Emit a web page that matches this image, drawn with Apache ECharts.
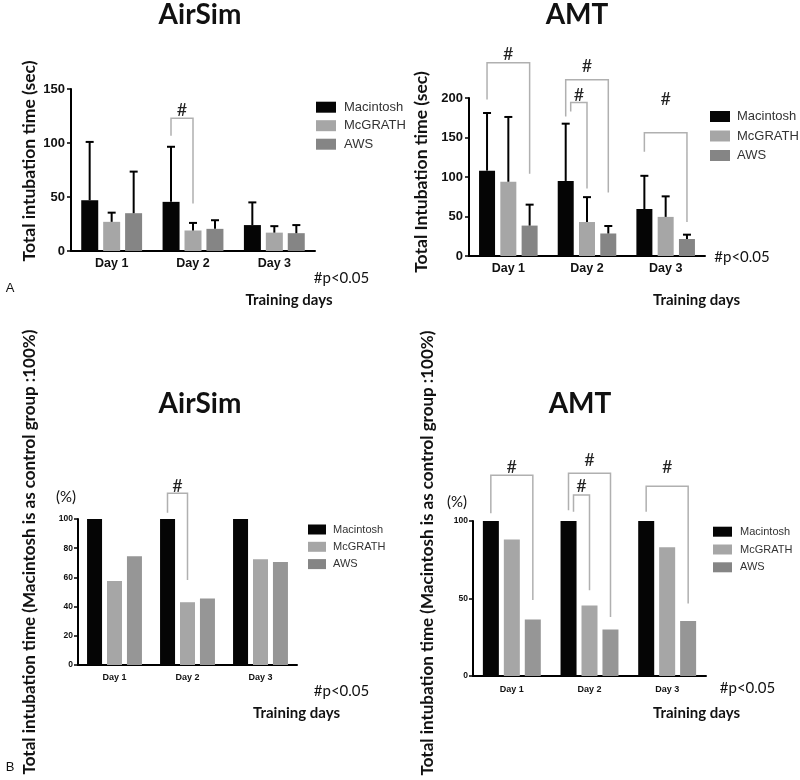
<!DOCTYPE html>
<html>
<head>
<meta charset="utf-8">
<script src="https://cdn.jsdelivr.net/npm/echarts@6/dist/echarts.min.js"></script>
<style>html,body{margin:0;padding:0;background:#fff}#c{width:800px;height:780px}</style>
</head>
<body>
<div id="c"></div>
<script>
// ---------- data ----------
const days = ['Day 1', 'Day 2', 'Day 3'];
const devices = ['Macintosh', 'McGRATH', 'AWS'];

// A – AirSim: total intubation time (sec), mean and SD
const airSimSecMac = [47, 45.5, 24];
const airSimSecMcGrath = [27, 19, 17];
const airSimSecAws = [35, 20.5, 16.5];
const airSimSdMac = [54, 51, 21];
const airSimSdMcGrath = [8.5, 7, 6];
const airSimSdAws = [38.5, 8, 7.5];

// A – AMT: total intubation time (sec), mean and SD
const amtSecMac = [108, 95, 59.5];
const amtSecMcGrath = [94, 43, 49.5];
const amtSecAws = [38.5, 28.5, 21.5];
const amtSdMac = [73, 72.5, 42];
const amtSdMcGrath = [82, 31.5, 26];
const amtSdAws = [26.5, 9.5, 5.5];

// B – relative time, Macintosh = 100 %
const airSimPctMac = [100, 100, 100];
const airSimPctMcGrath = [57.5, 43, 72.5];
const airSimPctAws = [74.5, 45.5, 70.5];
const amtPctMac = [100, 100, 100];
const amtPctMcGrath = [88, 45.5, 83];
const amtPctAws = [36.5, 30, 35.5];

// significance brackets: [day, from device, to device, left leg bottom, bracket top, right leg bottom, '#' level]
const airSimSecSig = [[1, 0, 1, 106.7, 123, 44, 130.6]];
const amtSecSig = [[0, 0, 2, 198, 244.5, 104, 255], [1, 0, 2, 176.6, 223, 80.5, 240], [1, 0, 1, 183, 194.4, 85.6, 204], [2, 0, 2, 132, 156, 43, 198]];
const airSimPctSig = [[1, 0, 1, 104.3, 117.6, 58.2, 122.6]];
const amtPctSig = [[0, 0, 2, 105, 129.5, 49, 134.7], [1, 0, 2, 107, 130.8, 38, 139.4], [1, 0, 1, 106, 116.8, 55.4, 122.2], [2, 0, 2, 106, 122.4, 46.8, 135]];

// y-axis tick labels
const airSimSecTicks = [0, 50, 100, 150];
const amtSecTicks = [0, 50, 100, 150, 200];
const airSimPctTicks = [0, 20, 40, 60, 80, 100];
const amtPctTicks = [0, 50, 100];

// ---------- layout ----------
const panels = [
  { grid: { left: 71, top: 89, width: 244, height: 162 }, ticks: airSimSecTicks,
    means: [airSimSecMac, airSimSecMcGrath, airSimSecAws], sds: [airSimSdMac, airSimSdMcGrath, airSimSdAws],
    sig: airSimSecSig, bw: 17, gap: 5, colors: ['#050505', '#a6a6a6', '#858585'],
    yFont: 13, xFont: 12.5, xMargin: 6, yMargin: 6,
    legend: { left: 316, top: 100.7, iw: 20, ih: 11, font: 13, lh: 13, gap: 5.5, pad: 3 } },
  { grid: { left: 469, top: 98, width: 236, height: 158 }, ticks: amtSecTicks,
    means: [amtSecMac, amtSecMcGrath, amtSecAws], sds: [amtSdMac, amtSdMcGrath, amtSdAws],
    sig: amtSecSig, bw: 16, gap: 5.3, colors: ['#050505', '#a6a6a6', '#858585'],
    yFont: 13, xFont: 12.5, xMargin: 6, yMargin: 6,
    legend: { left: 710, top: 110, iw: 20, ih: 11, font: 13, lh: 13, gap: 6.5, pad: 2 } },
  { grid: { left: 78, top: 519, width: 219, height: 146 }, ticks: airSimPctTicks,
    means: [airSimPctMac, airSimPctMcGrath, airSimPctAws], sds: null,
    sig: airSimPctSig, bw: 15, gap: 5, colors: ['#050505', '#a6a6a6', '#969696'],
    yFont: 8.5, xFont: 9, xMargin: 8, yMargin: 5,
    legend: { left: 308, top: 524, iw: 18, ih: 10, font: 11, lh: 11, gap: 6.3, pad: 2 } },
  { grid: { left: 473, top: 521, width: 233, height: 155 }, ticks: amtPctTicks,
    means: [amtPctMac, amtPctMcGrath, amtPctAws], sds: null,
    sig: amtPctSig, bw: 16, gap: 5, colors: ['#050505', '#a6a6a6', '#969696'],
    yFont: 8.5, xFont: 9, xMargin: 9, yMargin: 5,
    legend: { left: 713, top: 526.2, iw: 19, ih: 10, font: 11, lh: 11, gap: 6.8, pad: 3 } }
];

const grids = [], xAxes = [], yAxes = [], series = [], legends = [];

panels.forEach((p, i) => {
  grids.push(Object.assign({ containLabel: false }, p.grid));
  xAxes.push({
    type: 'category', gridIndex: i, data: days,
    axisLine: { lineStyle: { color: '#000', width: 2 } },
    axisTick: { alignWithLabel: true, length: 4, lineStyle: { color: '#000', width: 1.5 } },
    axisLabel: { fontFamily: 'Liberation Sans', fontWeight: 'bold', fontSize: p.xFont, color: '#111', margin: p.xMargin }
  });
  const t = p.ticks;
  yAxes.push({
    type: 'value', gridIndex: i, min: t[0], max: t[t.length - 1], interval: t[1] - t[0],
    splitLine: { show: false },
    axisLine: { show: true, lineStyle: { color: '#000', width: 2 } },
    axisTick: { show: true, length: 4, lineStyle: { color: '#000', width: 1.5 } },
    axisLabel: { fontFamily: 'Liberation Sans', fontWeight: 'bold', fontSize: p.yFont, color: '#111', margin: p.yMargin }
  });
  const gapPct = Math.round(p.gap / p.bw * 100) + '%';
  devices.forEach((name, s) => {
    series.push({
      type: 'bar', name: name, xAxisIndex: i, yAxisIndex: i,
      data: p.means[s], barWidth: p.bw, barGap: gapPct, silent: true,
      itemStyle: { color: p.colors[s] }, z: 2
    });
  });
  const off = s => (s - 1) * (p.bw + p.gap);
  if (p.sds) {
    const ebData = [];
    devices.forEach((name, s) => {
      p.means[s].forEach((m, d) => ebData.push([d, m, m + p.sds[s][d], s]));
    });
    series.push({
      type: 'custom', name: 'sd' + i, xAxisIndex: i, yAxisIndex: i, silent: true, z: 3,
      encode: { x: 0, y: [1, 2] }, data: ebData,
      renderItem: (params, api) => {
        const d = api.value(0), s = api.value(3);
        const p0 = api.coord([d, api.value(1)]), p1 = api.coord([d, api.value(2)]);
        const x = p0[0] + off(s);
        return { type: 'group', children: [
          { type: 'line', shape: { x1: x, y1: p0[1], x2: x, y2: p1[1] }, style: { stroke: '#000', lineWidth: 2 } },
          { type: 'line', shape: { x1: x - 4, y1: p1[1], x2: x + 4, y2: p1[1] }, style: { stroke: '#000', lineWidth: 2 } }
        ] };
      }
    });
  }
  const sigData = p.sig.map(b => {
    const nested = p.sig.some(o => o !== b && o[0] === b[0] && o[1] === b[1] && o[4] > b[4]) ? 1 : 0;
    return b.concat([nested]);
  });
  series.push({
    type: 'custom', name: 'sig' + i, xAxisIndex: i, yAxisIndex: i, silent: true, z: 4, clip: false,
    encode: { x: 0, y: 4 }, data: sigData,
    renderItem: (params, api) => {
      const d = api.value(0), f = api.value(1), to = api.value(2), nested = api.value(7);
      const c = api.coord([d, 0])[0];
      const xl = c + off(f) + (nested ? 5 : 0);
      const xr = c + off(to);
      const yl = api.coord([d, api.value(3)])[1];
      const yt = api.coord([d, api.value(4)])[1];
      const yr = api.coord([d, api.value(5)])[1];
      const yh = api.coord([d, api.value(6)])[1];
      return { type: 'group', children: [
        { type: 'polyline', shape: { points: [[xl, yl], [xl, yt], [xr, yt], [xr, yr]] }, style: { stroke: '#b0b0b0', lineWidth: 1.5, fill: null } },
        { type: 'text', x: (xl + xr) / 2, y: yh, style: { text: '#', font: '18px Lato', fill: '#222', align: 'center', verticalAlign: 'middle' } }
      ] };
    }
  });
  const L = p.legend;
  legends.push({
    orient: 'vertical', left: L.left, top: L.top, padding: 0, data: devices, icon: 'rect',
    itemWidth: L.iw, itemHeight: L.ih, itemGap: L.gap, selectedMode: false,
    textStyle: { fontFamily: 'Liberation Sans', fontSize: L.font, lineHeight: L.lh, color: '#333', padding: [0, 0, 0, L.pad] }
  });
});

function txt(text, x, y, font, opts) {
  return Object.assign({ type: 'text', x: x, y: y, silent: true,
    style: { text: text, font: font, fill: '#111', align: 'center', verticalAlign: 'middle' } }, opts || {});
}
const titleFont = 'bold 28px Lato';
const topAxisTitleFont = 'bold 17.5px Lato';
const bottomAxisTitleFont = 'bold 17px Lato';
const graphics = [
  txt('AirSim', 200, 15, titleFont),
  txt('AMT', 577, 15, titleFont),
  txt('AirSim', 200, 404, titleFont),
  txt('AMT', 580, 404, titleFont),
  txt('Total intubation time (sec)', 29, 161, topAxisTitleFont, { rotation: Math.PI / 2 }),
  txt('Total Intubation time (sec)', 421, 172, topAxisTitleFont, { rotation: Math.PI / 2 }),
  txt('Total intubation time (Macintosh is as control group :100%)', 30, 552, bottomAxisTitleFont, { rotation: Math.PI / 2 }),
  txt('Total intubation time (Macintosh is as control group :100%)', 428, 553, bottomAxisTitleFont, { rotation: Math.PI / 2 }),
  txt('#p<0.05', 341.5, 278, '15px Lato'),
  txt('#p<0.05', 742, 257, '15px Lato'),
  txt('#p<0.05', 341.5, 691, '15px Lato'),
  txt('#p<0.05', 747.5, 688, '15px Lato'),
  txt('Training days', 289, 300, 'bold 15px Lato'),
  txt('Training days', 696.5, 300, 'bold 15px Lato'),
  txt('Training days', 296.5, 713, 'bold 15px Lato'),
  txt('Training days', 696.5, 713, 'bold 15px Lato'),
  txt('(%)', 66, 497, '15px Lato'),
  txt('(%)', 457, 502, '15px Lato'),
  txt('A', 10, 288, '13px Liberation Sans'),
  txt('B', 10, 767, '13px Liberation Sans')
];

const chart = echarts.init(document.getElementById('c'), null, { renderer: 'canvas' });
chart.setOption({
  animation: false,
  backgroundColor: '#fff',
  grid: grids, xAxis: xAxes, yAxis: yAxes, series: series, legend: legends,
  graphic: graphics
});
</script>
</body>
</html>
